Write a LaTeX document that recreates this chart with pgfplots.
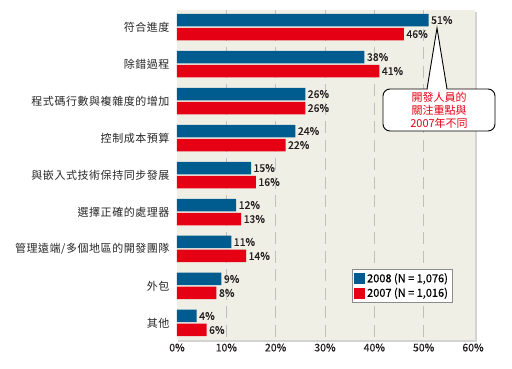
\documentclass[border=0pt]{standalone}
\usepackage{pgfplots}
\pgfplotsset{compat=1.18}
\usepackage{fontspec}
\setmainfont{Noto Sans CJK TC}
\newfontfamily\numfont{Noto Sans CJK TC}[FakeBold=0.4]
\newfontfamily\catfont{Noto Sans CJK TC}[LetterSpace=5]
\usetikzlibrary{shadows}
\definecolor{cblue}{HTML}{005B8F}
\definecolor{cred}{HTML}{E60013}
\definecolor{panel}{HTML}{F0EFE6}
\definecolor{txt}{HTML}{231F20}
\begin{document}
\begin{tikzpicture}[x=1pt,y=1pt]
\path[use as bounding box] (0,0) rectangle (512,368);
\begin{axis}[at={(177pt,28pt)}, anchor=south west, scale only axis,
  width=298pt, height=330pt,
  xbar, xmin=0, xmax=60.4, ymin=-0.46, ymax=8.46, y dir=reverse,
  bar width=12.5pt,
  xtick={10,20,...,50}, extra x ticks={0,60}, extra tick style={grid=none},
  xticklabel={\pgfmathprintnumber{\tick}\%},
  /pgf/number format/assume math mode=true,
  xticklabel style={font=\numfont\fontsize{10.5}{12}\selectfont, text=txt},
  ytick={0,...,8},
  yticklabels={符合進度,除錯過程,程式碼行數與複雜度的增加,控制成本預算,與嵌入式技術保持同步發展,選擇正確的處理器,管理遠端/多個地區的開發團隊,外包,其他},
  yticklabel style={font=\catfont\fontsize{11}{12}\selectfont, text=black!85, xshift=-4pt},
  axis line style={draw=none}, major tick length=0pt,
  xmajorgrids, grid style={black!25, dash pattern=on 12pt off 6.5pt, line width=0.9pt},
  axis background/.style={fill=panel, drop shadow={shadow xshift=1.5pt, shadow yshift=-1.5pt, opacity=0.35}},
  nodes near coords={\pgfmathprintnumber{\pgfplotspointmeta}\%},
  nodes near coords style={font=\numfont\fontsize{10.5}{12}\selectfont, text=txt, anchor=west, xshift=-1pt},
  legend style={at={(0.587,0.215)}, anchor=north west, draw=black!45, fill=white,
    font=\numfont\fontsize{11}{13}\selectfont, row sep=0pt, inner sep=2pt},
  legend cell align=left,
  legend image code/.code={\fill[#1] (0pt,-5.5pt) rectangle (11pt,5.5pt);},
]
\addplot[draw=none, fill=cblue, bar shift=7pt] coordinates {
(51,0) (38,1) (26,2) (24,3) (15,4) (12,5) (11,6) (9,7) (4,8)};
\addlegendentry{2008 (N = 1,076)}
\addplot[draw=none, fill=cred, bar shift=-7pt] coordinates {
(46,0) (41,1) (26,2) (22,3) (16,4) (13,5) (14,6) (8,7) (6,8)};
\addlegendentry{2007 (N = 1,016)}
\end{axis}
\draw[fill=white, line width=0.9pt, rounded corners=7pt] (383,237) rectangle (495,279);
\fill[white] (427.5,278) -- (437,340) -- (446.5,278) -- cycle;
\draw[line width=0.9pt, line join=miter] (427,279) -- (437,340) -- (447,279);
\node[text=cred, align=center, font=\fontsize{11}{13}\selectfont] at (439,258) {開發人員的\\關注重點與\\2007年不同};
\end{tikzpicture}
\end{document}
